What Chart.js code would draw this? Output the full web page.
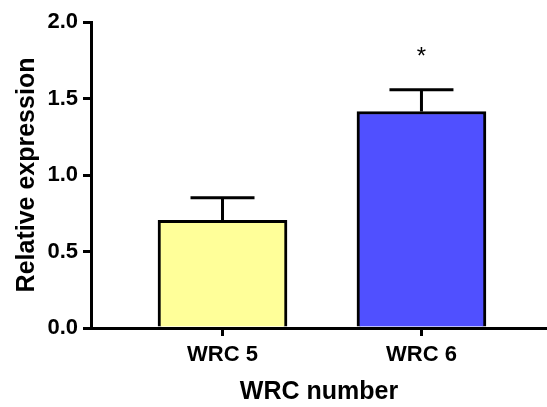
<!DOCTYPE html>
<html>
<head>
<meta charset="utf-8">
<script src="https://cdn.jsdelivr.net/npm/chart.js@4"></script>
<style>
  body { margin: 0; background: #fff; }
  #wrap { width: 547px; height: 407px; }
</style>
</head>
<body>
<div id="wrap"><canvas id="chartWrc"></canvas></div>
<script>
// values
const categories = ['WRC 5', 'WRC 6'];
const means = [0.704, 1.415];
const errUpper = [0.148, 0.142];
const marks = ['', '*'];
const markLevel = [null, 1.82];
const barColors = ['#FFFF99', '#5050FF'];

const fontFamily = "'Liberation Sans', Arial, sans-serif";

// error bars + significance marks
const errorBars = {
    id: 'errorBars',
    afterDatasetsDraw(chart) {
        const ctx = chart.ctx;
        const xs = chart.scales.x;
        const ys = chart.scales.y;
        ctx.save();
        ctx.strokeStyle = '#000';
        ctx.lineWidth = 3;
        ctx.lineCap = 'butt';
        means.forEach((m, i) => {
            const x = xs.getPixelForValue(i);
            const yTop = ys.getPixelForValue(m);
            const yErr = ys.getPixelForValue(m + errUpper[i]);
            const half = 32;
            ctx.beginPath();
            ctx.moveTo(x, yTop);
            ctx.lineTo(x, yErr);
            ctx.moveTo(x - half, yErr);
            ctx.lineTo(x + half, yErr);
            ctx.stroke();
            if (marks[i]) {
                ctx.fillStyle = '#000';
                ctx.font = '24px ' + fontFamily;
                ctx.textAlign = 'center';
                ctx.textBaseline = 'alphabetic';
                ctx.fillText(marks[i], x, ys.getPixelForValue(markLevel[i]) + 14);
            }
        });
        ctx.restore();
    }
};

const ctx = document.getElementById('chartWrc').getContext('2d');
const myChart = new Chart(ctx, {
    type: 'bar',
    data: {
        datasets: [{
            data: means.map((v, i) => ({x: i, y: v})),
            backgroundColor: barColors,
            borderColor: '#000',
            borderWidth: 3,
            borderSkipped: 'start',
            barThickness: 129
        }]
    },
    options: {
        responsive: true,
        maintainAspectRatio: false,
        animation: false,
        layout: {padding: {left: 8, top: 22, right: 0, bottom: 0}},
        plugins: {
            legend: {display: false},
            tooltip: {enabled: false}
        },
        scales: {
            x: {
                type: 'linear',
                offset: false,
                min: -0.661,
                max: 1.631,
                afterBuildTicks: (scale) => {
                    scale.ticks = categories.map((c, i) => ({value: i}));
                },
                afterFit: (scale) => { scale.height = 79; },
                ticks: {
                    callback: (v) => categories[v],
                    color: '#000',
                    padding: 6,
                    maxRotation: 0,
                    font: {family: fontFamily, size: 22, weight: 'bold'}
                },
                grid: {offset: false, drawOnChartArea: false, drawTicks: true, tickLength: 8, color: '#000', lineWidth: 3},
                border: {display: true, color: '#000', width: 3},
                title: {
                    display: true,
                    text: 'WRC number',
                    color: '#000',
                    padding: {top: 4, bottom: 0},
                    font: {family: fontFamily, size: 25, weight: 'bold'}
                }
            },
            y: {
                min: 0,
                max: 2,
                afterFit: (scale) => { scale.width = 83; },
                ticks: {
                    stepSize: 0.5,
                    callback: (v) => v.toFixed(1),
                    color: '#000',
                    padding: 5,
                    font: {family: fontFamily, size: 22, weight: 'bold'}
                },
                grid: {drawOnChartArea: false, drawTicks: true, tickLength: 8, color: '#000', lineWidth: 3},
                border: {display: true, color: '#000', width: 3},
                title: {
                    display: true,
                    text: 'Relative expression',
                    color: '#000',
                    font: {family: fontFamily, size: 25, weight: 'bold'}
                }
            }
        }
    },
    plugins: [errorBars]
});
</script>
</body>
</html>
